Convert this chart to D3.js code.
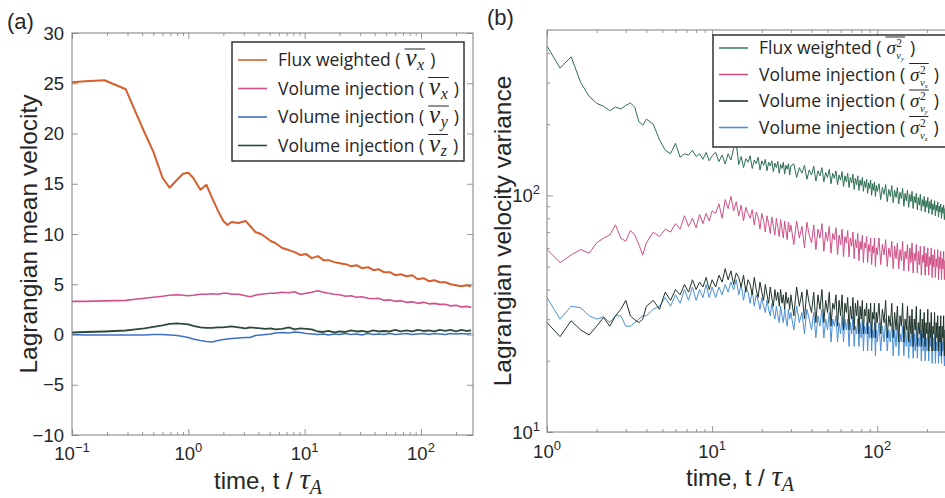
<!DOCTYPE html>
<html>
<head>
<meta charset="utf-8">
<script src="https://cdn.jsdelivr.net/npm/d3@7"></script>
<style>
body { margin: 0; background: #fff; }
svg { display: block; }
</style>
</head>
<body>
<div class="graph"></div>
<script>
// ---- panel (a): Lagrangian mean velocity ----
var timeA = [0.1, 0.13, 0.19, 0.29, 0.35, 0.42, 0.5, 0.6, 0.69, 0.8,
  0.9, 1.0, 1.1, 1.27, 1.43, 1.6, 1.8, 2.0, 2.17, 2.35,
  2.7, 3.1, 3.4, 3.77, 4.2, 4.6, 5.1, 5.6, 6.4, 7.3,
  8.2, 9.2, 10.3, 11.5, 13, 14.5, 16, 18, 20, 22.5,
  25, 28, 31, 35, 39, 43, 48, 54, 60, 67,
  75, 84, 94, 105, 117, 130, 145, 162, 180, 200,
  222, 246, 270];
var fluxVx = [25.1, 25.2, 25.3, 24.4, 22.2, 20.1, 18.2, 15.6, 14.6, 15.4,
  16.0, 16.1, 15.6, 14.4, 14.9, 13.6, 12.3, 11.3, 10.9, 11.2,
  11.1, 11.3, 10.8, 10.2, 10.0, 9.7, 9.3, 9.1, 8.6, 8.4,
  8.2, 7.9, 8.0, 7.6, 7.8, 7.4, 7.4, 7.2, 7.1, 7.0,
  6.8, 6.9, 6.6, 6.7, 6.4, 6.5, 6.2, 6.2, 5.9, 6.0,
  5.8, 5.9, 5.5, 5.6, 5.3, 5.4, 5.2, 5.2, 5.0, 4.9,
  4.8, 4.9, 4.8];
var volVx = [3.3, 3.3, 3.35, 3.4, 3.5, 3.6, 3.7, 3.8, 3.9, 3.95,
  3.9, 3.85, 3.9, 4.0, 4.0, 4.05, 4.0, 4.1, 4.1, 4.0,
  4.0, 3.85, 3.75, 3.9, 4.0, 4.05, 4.1, 4.1, 4.2, 4.15,
  4.25, 4.0, 4.1, 4.2, 4.35, 4.2, 4.1, 4.0, 3.95, 3.8,
  3.85, 3.7, 3.75, 3.6, 3.55, 3.6, 3.4, 3.45, 3.3, 3.35,
  3.2, 3.25, 3.1, 3.2, 3.05, 3.1, 3.0, 3.0, 2.85, 2.9,
  2.75, 2.8, 2.7];
var volVy = [0.0, -0.05, -0.05, -0.05, -0.05, -0.05, 0.0, 0.0, -0.05, -0.1,
  -0.2, -0.3, -0.45, -0.6, -0.7, -0.75, -0.6, -0.5, -0.45, -0.4,
  -0.35, -0.3, -0.3, -0.1, -0.05, 0.0, 0.05, 0.15, 0.2, 0.15,
  0.25, 0.2, 0.1, 0.05, 0.0, 0.05, -0.05, 0.05, 0.0, 0.1,
  0.0, 0.05, -0.05, 0.1, 0.0, 0.05, 0.0, 0.1, 0.0, 0.05,
  0.1, 0.0, 0.05, 0.1, 0.0, 0.1, 0.05, 0.0, 0.1, 0.05,
  0.1, 0.05, 0.1];
var volVz = [0.2, 0.25, 0.3, 0.4, 0.5, 0.6, 0.75, 0.9, 1.05, 1.1,
  1.05, 1.0, 0.85, 0.7, 0.65, 0.65, 0.7, 0.7, 0.75, 0.8,
  0.7, 0.6, 0.7, 0.65, 0.6, 0.55, 0.6, 0.5, 0.55, 0.7,
  0.5, 0.6, 0.55, 0.5, 0.3, 0.25, 0.35, 0.2, 0.3, 0.25,
  0.4, 0.3, 0.35, 0.25, 0.4, 0.3, 0.35, 0.3, 0.45, 0.3,
  0.4, 0.3, 0.45, 0.35, 0.4, 0.3, 0.45, 0.35, 0.45, 0.3,
  0.45, 0.35, 0.4];
var yTicksA = [-10, -5, 0, 5, 10, 15, 20, 25, 30];
var xTickExpA = [-1, 0, 1, 2];

// ---- panel (b): Lagrangian velocity variance ----
var timeB = [1.0, 1.2, 1.4, 1.6, 1.8, 2.0, 2.2, 2.4, 2.6, 2.8, 3.0, 3.2, 3.4, 3.6, 3.8, 4.0,
  4.4, 4.8, 5.2, 5.6, 6.0, 6.4, 6.8, 7.2, 7.6, 8.0, 8.4, 8.8, 9.2, 9.6, 10,
  10.5, 11, 11.5, 12, 12.5, 13, 13.5, 14, 14.5, 15, 15.5, 16, 16.5, 17, 17.5, 18, 18.5, 19, 19.5, 20,
  20.5, 21, 21.5, 22, 22.5, 23, 23.5, 24, 24.5, 25, 25.5, 26, 26.5, 27, 27.5, 28, 28.5, 29, 29.5, 30,
  31.25, 32.5, 33.75, 35, 36.25, 37.5, 38.75, 40, 41.25, 42.5, 43.75, 45, 46.25, 47.5, 48.75, 50,
  51.25, 52.5, 53.75, 55, 56.25, 57.5, 58.75, 60, 61.25, 62.5, 63.75, 65, 66.25, 67.5, 68.75, 70,
  71.25, 72.5, 73.75, 75, 76.25, 77.5, 78.75, 80, 81.25, 82.5, 83.75, 85, 86.25, 87.5, 88.75, 90,
  91.25, 92.5, 93.75, 95, 96.25, 97.5, 98.75, 100,
  102.5, 105, 107.5, 110, 112.5, 115, 117.5, 120, 122.5, 125, 127.5, 130, 132.5, 135, 137.5, 140,
  142.5, 145, 147.5, 150, 152.5, 155, 157.5, 160, 162.5, 165, 167.5, 170, 172.5, 175, 177.5, 180,
  182.5, 185, 187.5, 190, 192.5, 195, 197.5, 200, 202.5, 205, 207.5, 210, 212.5, 215, 217.5, 220,
  222.5, 225, 227.5, 230, 232.5, 235, 237.5, 240, 242.5, 245, 247.5, 250, 252.5, 255, 257.5, 260,
  262.5, 265, 267.5, 270, 272.5, 275, 277.5, 280];
var fluxVarY = [428, 345, 385, 300, 262, 245, 238, 228, 236, 232, 240, 246, 236, 205, 198, 210,
  200, 172, 155, 150, 166, 145, 150, 148, 155, 146, 150, 142, 152, 140, 147,
  152, 139, 148, 136, 150, 141, 158, 166, 135, 146, 131, 143, 138, 147, 130, 141, 136, 145, 128, 140,
  134, 142, 127, 138, 133, 140, 126, 137, 131, 139, 124, 135, 130, 138, 123, 134, 129, 136, 122, 133,
  136, 119, 131, 124, 134, 117, 128, 122, 133, 115, 127, 121, 131, 114, 125, 119,
  129, 112, 124, 118, 127, 111, 122, 116, 126, 109, 121, 114, 124, 108, 119, 113,
  123, 106, 118, 111, 121, 105, 116, 110, 119, 104, 115, 108, 117, 102, 113, 107,
  116, 100, 112, 105, 114, 99, 110, 104,
  112, 96, 108, 101, 111, 94, 106, 99, 110, 93, 105, 98, 108, 92, 103, 97,
  107, 90, 102, 95, 105, 89, 101, 94, 104, 88, 99, 93, 102, 87, 98, 91,
  101, 86, 96, 90, 99, 85, 95, 89, 98, 84, 94, 88, 96, 83, 92, 87,
  95, 82, 91, 86, 94, 81, 90, 85, 92, 80, 89, 84, 91, 79, 88, 83,
  90, 78, 87, 82, 89, 78, 86, 81];
var volVarX = [59, 52, 56, 59, 57, 63, 66, 68, 75, 66, 64, 71, 68, 62, 56, 63,
  70, 67, 72, 70, 76, 72, 82, 74, 80, 73, 83, 76, 84, 78, 86,
  84, 92, 80, 96, 88, 99, 86, 94, 82, 91, 78, 89, 84, 80, 87, 75, 85, 81, 72, 84,
  78, 70, 82, 76, 69, 81, 74, 68, 80, 73, 67, 79, 72, 66, 78, 71, 65, 77, 70, 75,
  62, 78, 66, 74, 60, 77, 68, 63, 75, 59, 72, 66, 76, 58, 70, 64,
  74, 57, 69, 65, 73, 56, 68, 62, 72, 55, 67, 63, 71, 55, 66, 61,
  70, 54, 65, 60, 69, 53, 64, 59, 68, 52, 63, 60, 67, 52, 62, 58,
  66, 51, 61, 57, 66, 50, 60, 56,
  66, 51, 62, 56, 65, 50, 60, 55, 64, 49, 61, 54, 63, 49, 59, 53,
  64, 48, 58, 54, 62, 48, 60, 52, 63, 47, 57, 53, 62, 47, 58, 51,
  61, 46, 56, 52, 61, 46, 57, 50, 60, 46, 55, 51, 60, 45, 56, 50,
  59, 45, 54, 50, 59, 44, 55, 49, 58, 44, 54, 49, 58, 44, 53, 48,
  57, 43, 54, 48, 57, 43, 52, 47];
var volVarY = [29, 25.3, 29.5, 27, 25.7, 28, 30.5, 28, 31, 33, 36, 31, 29.8, 29, 30, 34,
  36, 33, 39, 36, 40, 38, 42, 39, 44, 40, 43, 41, 45, 40, 44,
  41, 46, 43, 49, 44, 48, 42, 47, 45, 41, 46, 39, 44, 42, 38, 45, 40, 37, 43, 39,
  36, 42, 38, 35, 41, 37, 34, 40, 36, 39, 34, 40, 35, 38, 33, 39, 35, 37, 33, 38,
  31, 41, 34, 39, 30, 40, 35, 32, 39, 29, 38, 33, 40, 29, 36, 32,
  39, 28, 35, 33, 38, 28, 36, 31, 38, 27, 35, 32, 37, 27, 34, 30,
  37, 27, 35, 31, 36, 26, 34, 30, 36, 26, 33, 31, 35, 26, 33, 29,
  35, 25, 32, 30, 35, 25, 32, 29,
  35, 26, 33, 29, 36, 25, 31, 28, 35, 25, 32, 27, 34, 24, 31, 28,
  35, 24, 30, 27, 34, 24, 31, 26, 33, 23, 30, 27, 34, 23, 29, 26,
  33, 23, 30, 25, 32, 23, 29, 26, 33, 22, 29, 25, 32, 22, 28, 26,
  32, 22, 29, 25, 31, 22, 28, 24, 31, 21, 28, 25, 31, 21, 27, 24,
  30, 21, 28, 24, 30, 21, 27, 23];
var volVarZ = [37, 30, 34, 33.5, 31, 30, 30.7, 29, 31, 31, 28, 28, 29, 30, 31, 31,
  33, 34, 37, 34, 38, 35, 40, 36, 41, 36, 40, 37, 42, 37, 41,
  37, 41, 38, 42, 39, 43, 40, 44, 38, 42, 36, 41, 39, 35, 40, 34, 38, 36, 33, 37,
  34, 32, 36, 33, 31, 35, 32, 30, 34, 31, 29, 34, 31, 29, 33, 30, 28, 33, 30, 32,
  27, 34, 29, 32, 26, 33, 30, 27, 32, 25, 31, 28, 33, 25, 30, 27,
  32, 24, 30, 28, 31, 24, 29, 26, 31, 24, 30, 27, 30, 23, 29, 26,
  31, 23, 28, 26, 30, 23, 29, 25, 30, 22, 28, 26, 29, 22, 28, 25,
  29, 22, 27, 25, 29, 21, 27, 24,
  29, 22, 28, 24, 30, 22, 27, 24, 29, 21, 27, 23, 29, 21, 26, 24,
  28, 21, 27, 23, 28, 20.5, 26, 23, 28, 20.5, 26, 22, 28, 20.5, 25, 23,
  27, 20, 26, 22, 27, 20, 25, 22, 27, 20, 25, 23, 27, 19.5, 25, 22,
  26, 19.5, 24, 22, 26, 19.5, 25, 21, 26, 19.5, 24, 22, 26, 19, 24, 21,
  25, 19, 24, 21, 25, 19, 23, 21];
var xTickExpB = [0, 1, 2];
var yTickExpB = [1, 2];

// fonts / colours
var sans = "'Liberation Sans', Arial, Helvetica, sans-serif";
var serif = "'Liberation Serif', 'DejaVu Serif', serif";
var legendFont = "'Open Sans', 'Noto Sans', sans-serif";
var txt = '#262626';
var frameCol = '#7d7d7d';

var svg = d3.select('.graph')
    .append('svg')
    .attr('width', 945)
    .attr('height', 498)

var boxA = {left: 72, right: 473, top: 33, bottom: 435};
var boxB = {left: 547, right: 956, top: 30, bottom: 432};

var xA = d3.scaleLog().domain([0.1, 280]).range([boxA.left, boxA.right]);
var yA = d3.scaleLinear().domain([-10, 30]).range([boxA.bottom, boxA.top]);
var xB = d3.scaleLog().domain([1, 300]).range([boxB.left, boxB.right]);
var yB = d3.scaleLog().domain([10, 500]).range([boxB.bottom, boxB.top]);

function minorLog(lo, hi) {
    var out = [];
    for (var e = Math.floor(Math.log10(lo)); e <= Math.ceil(Math.log10(hi)); e++) {
        for (var m = 2; m <= 9; m++) {
            var v = m * Math.pow(10, e);
            if (v > lo * 1.0001 && v < hi) out.push(v);
        }
    }
    return out;
}

function ticks(axisFn, scale, values, size, tx, ty) {
    svg.append('g')
        .attr('transform', 'translate(' + tx + ',' + ty + ')')
        .call(axisFn(scale).tickValues(values).tickSize(size).tickFormat(''))
        .call(function(g) {
            g.select('.domain').remove();
            g.selectAll('line').attr('stroke', frameCol).attr('stroke-width', 0.8);
        });
}

function clip(id, b) {
    svg.append('clipPath').attr('id', id)
        .append('rect')
        .attr('x', b.left).attr('y', b.top)
        .attr('width', b.right - b.left).attr('height', b.bottom - b.top);
}
clip('clipA', boxA);
clip('clipB', boxB);

function drawSeries(times, vals, x, y, color, w, clipId) {
    var n = Math.min(times.length, vals.length);
    var line = d3.line()
        .x(function(d, i) { return x(times[i]); })
        .y(function(d) { return y(d); });
    svg.append('path')
        .datum(vals.slice(0, n))
        .attr('d', line)
        .attr('fill', 'none')
        .attr('stroke', color)
        .attr('stroke-width', w)
        .attr('stroke-linejoin', 'round')
        .attr('clip-path', 'url(#' + clipId + ')');
}

// ------------- panel (a) -------------
var colA = ['#d5602d', '#d1508a', '#3e6fcc', '#2d4a3c'];
drawSeries(timeA, volVx, xA, yA, colA[1], 1.6, 'clipA');
drawSeries(timeA, volVy, xA, yA, colA[2], 1.6, 'clipA');
drawSeries(timeA, volVz, xA, yA, colA[3], 1.8, 'clipA');
drawSeries(timeA, fluxVx, xA, yA, colA[0], 2, 'clipA');

var majA = xTickExpA.map(function(e) { return Math.pow(10, e); });
ticks(d3.axisBottom, xA, majA, -6, 0, boxA.bottom);
ticks(d3.axisBottom, xA, minorLog(0.1, 280), -3, 0, boxA.bottom);
ticks(d3.axisTop, xA, majA, -6, 0, boxA.top);
ticks(d3.axisTop, xA, minorLog(0.1, 280), -3, 0, boxA.top);
ticks(d3.axisLeft, yA, yTicksA, -6, boxA.left, 0);
ticks(d3.axisRight, yA, yTicksA, -6, boxA.right, 0);

svg.append('rect')
    .attr('x', boxA.left).attr('y', boxA.top)
    .attr('width', boxA.right - boxA.left).attr('height', boxA.bottom - boxA.top)
    .attr('fill', 'none').attr('stroke', frameCol).attr('stroke-width', 1);

svg.append('g').selectAll('text')
    .data(yTicksA)
    .join('text')
    .attr('x', boxA.left - 8)
    .attr('y', function(d) { return yA(d) + 6.5; })
    .attr('text-anchor', 'end')
    .style('font-family', sans).style('font-size', '18.5px').attr('fill', txt)
    .text(function(d) { return d < 0 ? '\u2212' + Math.abs(d) : d; });

function powLabels(exps, x, yBase) {
    var t = svg.append('g').selectAll('text')
        .data(exps)
        .join('text')
        .attr('x', function(d) { return x(Math.pow(10, d)); })
        .attr('y', yBase)
        .attr('text-anchor', 'middle')
        .style('font-family', sans).style('font-size', '18.5px').attr('fill', txt);
    t.append('tspan').text('10');
    t.append('tspan').attr('dy', -8).style('font-size', '13px')
        .text(function(d) { return d < 0 ? '\u2212' + Math.abs(d) : d; });
}
powLabels(xTickExpA, xA, 460);

function timeLabel(cx, yBase) {
    var t = svg.append('text')
        .attr('x', cx).attr('y', yBase)
        .attr('text-anchor', 'middle')
        .style('font-family', sans).style('font-size', '24px').attr('fill', txt);
    t.append('tspan').text('time, t / ');
    t.append('tspan').style('font-family', serif).style('font-style', 'italic').style('font-size', '29px').text('\u03c4');
    t.append('tspan').attr('dy', 5).style('font-family', serif).style('font-style', 'italic').style('font-size', '20px').text('A');
}
timeLabel(268, 489);

svg.append('text')
    .attr('transform', 'translate(37,' + (boxA.top + boxA.bottom) / 2 + ') rotate(-90)')
    .attr('text-anchor', 'middle')
    .style('font-family', sans).style('font-size', '24.5px').attr('fill', txt)
    .text('Lagrangian mean velocity');

svg.append('text').attr('x', 7).attr('y', 29)
    .style('font-family', sans).style('font-size', '22px').attr('fill', txt).text('(a)');

// legend helpers
function mathV(sub) {
    return function(g, x, base) {
        var v = g.append('text').attr('x', x).attr('y', base)
            .style('font-family', serif).style('font-style', 'italic').style('font-size', '25px')
            .attr('fill', txt).text('v');
        var vw = v.node().getComputedTextLength();
        var s = g.append('text').attr('x', x + vw + 0.5).attr('y', base + 4)
            .style('font-family', serif).style('font-style', 'italic').style('font-size', '16px')
            .attr('fill', txt).text(sub);
        var w = vw + 0.5 + s.node().getComputedTextLength();
        g.append('line').attr('x1', x - 1).attr('x2', x + w + 1)
            .attr('y1', base - 17).attr('y2', base - 17)
            .attr('stroke', txt).attr('stroke-width', 1);
        return w;
    };
}
function mathSigma(sub) {
    return function(g, x, base) {
        var s = g.append('text').attr('x', x).attr('y', base)
            .style('font-family', serif).style('font-style', 'italic').style('font-size', '19px')
            .attr('fill', txt).text('\u03c3');
        var w = s.node().getComputedTextLength();
        var sup = g.append('text').attr('x', x + w + 0.5).attr('y', base - 7)
            .style('font-family', serif).style('font-size', '11.5px').attr('fill', txt).text('2');
        var v = g.append('text').attr('x', x + w + 0.5).attr('y', base + 5)
            .style('font-family', serif).style('font-style', 'italic').style('font-size', '10.5px')
            .attr('fill', txt).text('v');
        var vw = v.node().getComputedTextLength();
        var ss = g.append('text').attr('x', x + w + 0.5 + vw).attr('y', base + 7)
            .style('font-family', serif).style('font-style', 'italic').style('font-size', '7px')
            .attr('fill', txt).text(sub);
        var tot = Math.max(w + 0.5 + sup.node().getComputedTextLength(),
                           w + 0.5 + vw + ss.node().getComputedTextLength());
        g.append('line').attr('x1', x - 1).attr('x2', x + tot + 1)
            .attr('y1', base - 17).attr('y2', base - 17)
            .attr('stroke', txt).attr('stroke-width', 1);
        return tot;
    };
}

function legend(bx, by, bw, bh, rows, rowY, size) {
    var g = svg.append('g');
    g.append('rect').attr('x', bx).attr('y', by).attr('width', bw).attr('height', bh)
        .attr('fill', '#fff').attr('stroke', '#333').attr('stroke-width', 1.5);
    rows.forEach(function(r, i) {
        var cy = rowY[i];
        g.append('line').attr('x1', bx + 6).attr('x2', bx + 35)
            .attr('y1', cy).attr('y2', cy)
            .attr('stroke', r.color).attr('stroke-width', 1.6);
        var base = cy + 6;
        var t = g.append('text').attr('x', bx + 46).attr('y', base)
            .style('font-family', legendFont).style('font-size', size + 'px')
            .attr('fill', txt).text(r.label + ' (');
        var cx = bx + 46 + t.node().getComputedTextLength() + 5;
        var mw = r.math(g, cx, base);
        g.append('text').attr('x', cx + mw + 6).attr('y', base)
            .style('font-family', legendFont).style('font-size', size + 'px')
            .attr('fill', txt).text(')');
    });
}

legend(232, 42, 232, 119, [
    {color: colA[0], label: 'Flux weighted', math: mathV('x')},
    {color: colA[1], label: 'Volume injection', math: mathV('x')},
    {color: colA[2], label: 'Volume injection', math: mathV('y')},
    {color: colA[3], label: 'Volume injection', math: mathV('z')}
], [60, 88.5, 117, 145.5], 17.5);

// ------------- panel (b) -------------
var colB = ['#2e7052', '#cf4f86', '#1e3328', '#4b8fd6'];
drawSeries(timeB, fluxVarY, xB, yB, colB[0], 1, 'clipB');
drawSeries(timeB, volVarX, xB, yB, colB[1], 1, 'clipB');
drawSeries(timeB, volVarZ, xB, yB, colB[3], 1, 'clipB');
drawSeries(timeB, volVarY, xB, yB, colB[2], 1, 'clipB');

var majBx = xTickExpB.map(function(e) { return Math.pow(10, e); });
var majBy = yTickExpB.map(function(e) { return Math.pow(10, e); });
ticks(d3.axisBottom, xB, majBx, -6, 0, boxB.bottom);
ticks(d3.axisBottom, xB, minorLog(1, 300), -3, 0, boxB.bottom);
ticks(d3.axisTop, xB, majBx, -6, 0, boxB.top);
ticks(d3.axisTop, xB, minorLog(1, 300), -3, 0, boxB.top);
ticks(d3.axisLeft, yB, majBy, -6, boxB.left, 0);
ticks(d3.axisLeft, yB, minorLog(10, 500), -3, boxB.left, 0);

svg.append('rect')
    .attr('x', boxB.left).attr('y', boxB.top)
    .attr('width', boxB.right - boxB.left).attr('height', boxB.bottom - boxB.top)
    .attr('fill', 'none').attr('stroke', frameCol).attr('stroke-width', 1);

var yl = svg.append('g').selectAll('text')
    .data(yTickExpB)
    .join('text')
    .attr('x', boxB.left - 7)
    .attr('y', function(d) { return yB(Math.pow(10, d)) + 6.5; })
    .attr('text-anchor', 'end')
    .style('font-family', sans).style('font-size', '18.5px').attr('fill', txt);
yl.append('tspan').text('10');
yl.append('tspan').attr('dy', -8).style('font-size', '13px').text(function(d) { return d; });

powLabels(xTickExpB, xB, 458);
timeLabel(740, 486);

svg.append('text')
    .attr('transform', 'translate(511,' + (boxB.top + boxB.bottom) / 2 + ') rotate(-90)')
    .attr('text-anchor', 'middle')
    .style('font-family', sans).style('font-size', '24.5px').attr('fill', txt)
    .text('Lagrangian velocity variance');

svg.append('text').attr('x', 487).attr('y', 25)
    .style('font-family', sans).style('font-size', '22px').attr('fill', txt).text('(b)');

legend(713, 35, 250, 112, [
    {color: '#3a8a64', label: 'Flux weighted', math: mathSigma('y')},
    {color: colB[1], label: 'Volume injection', math: mathSigma('x')},
    {color: colB[2], label: 'Volume injection', math: mathSigma('y')},
    {color: colB[3], label: 'Volume injection', math: mathSigma('z')}
], [48, 74.5, 101, 127.5], 17.5);
</script>
</body>
</html>
